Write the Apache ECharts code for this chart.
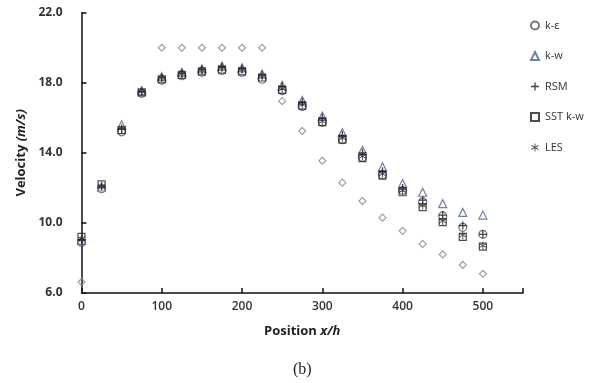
<!DOCTYPE html>
<html><head><meta charset="utf-8">
<script src="https://cdn.jsdelivr.net/npm/echarts@6/dist/echarts.min.js"></script>
<style>html,body{margin:0;padding:0;background:#fff}#c{width:596px;height:383px}</style>
</head><body><div id="c"></div>
<script>
var positions = [0,25,50,75,100,125,150,175,200,225,250,275,300,325,350,375,400,425,450,475,500];
var kEps = [8.9,11.95,15.2,17.4,18.15,18.4,18.6,18.7,18.6,18.2,17.55,16.65,15.75,14.75,13.75,12.75,11.85,11.2,10.4,9.75,9.35];
var kW   = [9.0,12.05,15.6,17.55,18.35,18.6,18.8,18.95,18.85,18.5,17.85,17.0,16.1,15.15,14.15,13.2,12.25,11.75,11.1,10.6,10.45];
var rsm  = [9.05,12.1,15.35,17.5,18.3,18.55,18.75,18.9,18.8,18.45,17.8,16.9,16.0,15.0,14.0,12.95,12.0,11.3,10.45,9.85,9.35];
var sst  = [9.2,12.2,15.3,17.45,18.2,18.45,18.65,18.75,18.65,18.3,17.6,16.7,15.75,14.75,13.7,12.7,11.75,10.9,10.05,9.2,8.65];
var les  = [9.1,12.1,15.4,17.5,18.25,18.5,18.7,18.85,18.75,18.35,17.65,16.75,15.8,14.85,13.8,12.8,11.85,11.0,10.1,9.3,8.7];
var expt = [6.63,null,null,null,20.0,20.0,20.0,20.0,20.0,20.0,16.95,15.25,13.55,12.3,11.25,10.3,9.55,8.8,8.2,7.6,7.1];
var seriesNames = ['k-\u03b5','k-w','RSM','SST k-w','LES'];
var yTicks = [6,10,14,18,22];

function pairs(v){ return positions.map(function(x,i){ return v[i]==null ? null : [x, v[i]]; }).filter(function(p){return p;}); }

var plusPath = 'path://M4.2,0H5.8V4.2H10V5.8H5.8V10H4.2V5.8H0V4.2H4.2Z';
var starPath = 'path://M4.4,0H5.6V10H4.4Z M0.37,3.02L0.97,1.98L9.63,6.98L9.03,8.02Z M0.37,6.98L9.03,1.98L9.63,3.02L0.97,8.02Z';

var chart = echarts.init(document.getElementById('c'), null, {renderer:'canvas'});
var lblFont = 'Open Sans';
chart.setOption({
  animation:false,
  backgroundColor:'#fff',
  title:{text:'(b)', left:288, top:357, textStyle:{fontFamily:'Liberation Serif', fontSize:16, fontWeight:'normal', color:'#222'}},
  grid:{left:81.5, right:73, top:12.7, bottom:90, containLabel:false},
  legend:{orient:'vertical', left:525, top:15, itemWidth:8, itemHeight:8, itemGap:19.5,
    textStyle:{fontFamily:lblFont, fontSize:11, color:'#333', padding:[0,0,0,1]},
    data:seriesNames},
  xAxis:{type:'value', min:0, max:550, interval:100,
    axisLine:{lineStyle:{color:'#111', width:1.5}},
    axisTick:{inside:true, length:5, lineStyle:{color:'#111', width:1.5}},
    axisLabel:{margin:8, fontFamily:lblFont, fontSize:12, color:'#333', fontWeight:'600',
      formatter:function(v){return v>500?'':String(v);}},
    splitLine:{show:false},
    name:'{b|Position }{i|x/h}', nameLocation:'middle', nameGap:32,
    nameTextStyle:{rich:{b:{fontFamily:lblFont,fontSize:13,fontWeight:'bold',color:'#222'},i:{fontFamily:lblFont,fontSize:13,fontWeight:'bold',fontStyle:'italic',color:'#222'}}}
  },
  yAxis:{type:'value', min:6, max:22, interval:4,
    axisLine:{show:true, lineStyle:{color:'#111', width:1.5}},
    axisTick:{show:true, inside:true, length:5, lineStyle:{color:'#111', width:1.5}},
    axisLabel:{margin:19, fontFamily:lblFont, fontSize:12, color:'#333', fontWeight:'bold',
      formatter:function(v){return v.toFixed(1);}},
    splitLine:{show:false},
    name:'{b|Velocity }{i|(m/s)}', nameLocation:'middle', nameGap:50, nameRotate:90,
    nameTextStyle:{rich:{b:{fontFamily:lblFont,fontSize:13,fontWeight:'bold',color:'#222'},i:{fontFamily:lblFont,fontSize:13,fontWeight:'bold',fontStyle:'italic',color:'#222'}}}
  },
  series:[
    {name:'exp', type:'scatter', data:pairs(expt), symbol:'diamond', symbolSize:7,
      itemStyle:{color:'rgba(255,255,255,0)', borderColor:'#888', borderWidth:1.2}},
    {name:seriesNames[0], type:'scatter', data:pairs(kEps), symbol:'circle', symbolSize:8,
      itemStyle:{color:'rgba(255,255,255,0)', borderColor:'#555', borderWidth:1.2}},
    {name:seriesNames[1], type:'scatter', data:pairs(kW), symbol:'triangle', symbolSize:8,
      itemStyle:{color:'rgba(255,255,255,0)', borderColor:'#4d6290', borderWidth:1.2}},
    {name:seriesNames[2], type:'scatter', data:pairs(rsm), symbol:plusPath, symbolSize:8,
      itemStyle:{color:'#111'}},
    {name:seriesNames[3], type:'scatter', data:pairs(sst), symbol:'rect', symbolSize:7,
      itemStyle:{color:'rgba(255,255,255,0)', borderColor:'#222', borderWidth:1.2}},
    {name:seriesNames[4], type:'scatter', data:pairs(les), symbol:starPath, symbolSize:8,
      itemStyle:{color:'#333'}}
  ]
});
</script></body></html>
